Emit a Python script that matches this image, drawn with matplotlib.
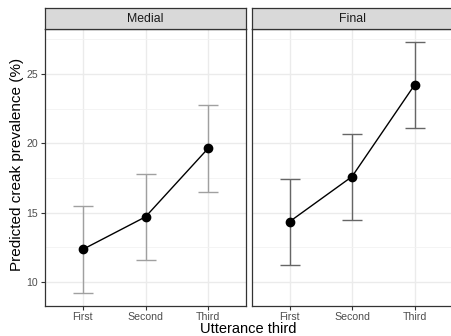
import matplotlib.pyplot as plt
import numpy as np

plt.rcParams['font.family'] = ['Liberation Sans', 'DejaVu Sans']

# data
thirds = ["First", "Second", "Third"]
panels = ["Medial", "Final"]
medial_fit = [12.35, 14.7, 19.65]
medial_lo = [9.2, 11.6, 16.5]
medial_hi = [15.45, 17.8, 22.75]
final_fit = [14.35, 17.6, 24.2]
final_lo = [11.25, 14.5, 21.1]
final_hi = [17.45, 20.7, 27.3]
bar_colors = ["#a0a0a0", "#666666"]

W, H = 451, 336
fig = plt.figure(figsize=(W / 100, H / 100), dpi=100)

boxes = [(45, 246), (252, 452)]
top_px, bot_px, strip_px = 29, 305.5, 21

series = [(medial_fit, medial_lo, medial_hi), (final_fit, final_lo, final_hi)]
x = np.arange(1, 4)

for i, (name, (fit, lo, hi)) in enumerate(zip(panels, series)):
    x0, x1 = boxes[i]
    ax = fig.add_axes([x0 / W, (H - bot_px) / H, (x1 - x0) / W, (bot_px - top_px) / H])
    ax.set_xlim(0.4, 3.6)
    ax.set_ylim(8.31, 28.24)
    ax.set_yticks([10, 15, 20, 25])
    ax.set_yticks([12.5, 17.5, 22.5, 27.5], minor=True)
    ax.set_xticks(x)
    ax.set_xticklabels(thirds)
    ax.grid(True, which='major', color='#ebebeb', lw=1.0)
    ax.grid(True, which='minor', axis='y', color='#f2f2f2', lw=0.6)
    ax.set_axisbelow(True)
    for s in ax.spines.values():
        s.set_color('#333333')
        s.set_linewidth(0.9)
    ax.tick_params(which='major', length=3, width=0.8, color='#333333',
                   labelsize=7.6, labelcolor='#4d4d4d', pad=2)
    ax.tick_params(which='minor', length=0)
    if i > 0:
        ax.tick_params(axis='y', left=False, labelleft=False)

    err = [np.array(fit) - np.array(lo), np.array(hi) - np.array(fit)]
    ax.errorbar(x, fit, yerr=err, fmt='none', ecolor=bar_colors[i],
                elinewidth=1.0, capsize=7.2, capthick=1.0, zorder=2)
    ax.plot(x, fit, color='black', lw=1.0, marker='o', markersize=6, zorder=3)

    # facet strip
    sax = fig.add_axes([x0 / W, (H - top_px) / H, (x1 - x0) / W, strip_px / H])
    sax.set_facecolor('#d9d9d9')
    sax.set_xticks([])
    sax.set_yticks([])
    for s in sax.spines.values():
        s.set_color('#333333')
        s.set_linewidth(0.9)
    sax.text(0.5, 0.47, name, ha='center', va='center', fontsize=8.8,
             color='#1a1a1a', transform=sax.transAxes)

fig.text(248 / W, 3 / H, "Utterance third", ha='center', va='baseline', fontsize=10.5)
fig.text(17 / W, (H - 164) / H, "Predicted creak prevalence (%)", ha='center',
         va='center', rotation=90, fontsize=11)

fig.savefig('out.png', dpi=100)
